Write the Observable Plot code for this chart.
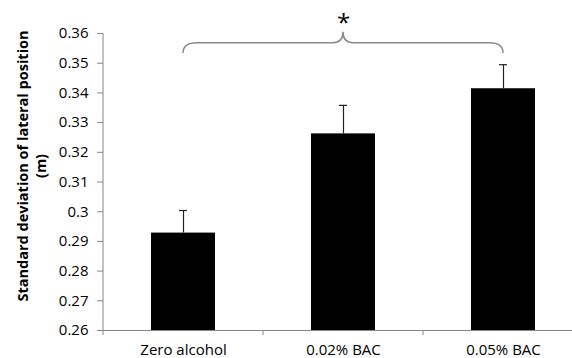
<!DOCTYPE html>
<html><head><meta charset="utf-8">
<script src="https://cdn.jsdelivr.net/npm/d3@7"></script>
<script src="https://cdn.jsdelivr.net/npm/@observablehq/plot@0.6"></script>
<style>
html,body{margin:0;padding:0;background:#fff;}
#chart svg{display:block;}
#chart [aria-label$="axis tick"]{stroke:#868686;}
</style></head><body><div id="chart"></div>
<script>
const categories = ["Zero alcohol", "0.02% BAC", "0.05% BAC"];
const means = [0.2928, 0.3262, 0.3414];
const errors = [0.0076, 0.0096, 0.0081];
const yTicks = [0.26, 0.27, 0.28, 0.29, 0.3, 0.31, 0.32, 0.33, 0.34, 0.35, 0.36];
const yTitle = ["Standard deviation of lateral position", "(m)"];
const sigLabel = "*";
const sigSpan = ["Zero alcohol", "0.05% BAC"];
const sigAnchor = "0.02% BAC";
const braceLevel = 0.3567, braceEnd = 0.3533, braceTip = 0.3604, sigY = 0.3634;

const rows = categories.map((c, i) => ({category: c, mean: means[i], err: errors[i], top: means[i] + errors[i]}));

function frameLines(index, scales, values, dimensions) {
  const {marginLeft, marginTop, height, marginBottom} = dimensions;
  const x = scales.x;
  const step = x.step ? x.step() : 160;
  const bw = x.bandwidth ? x.bandwidth() : 64;
  const y0 = height - marginBottom;
  const g = d3.create("svg:g").attr("stroke", "#868686").attr("fill", "none");
  g.append("line").attr("x1", marginLeft).attr("x2", marginLeft).attr("y1", marginTop).attr("y2", y0);
  const first = x(categories[0]) - (step - bw) / 2;
  for (let i = 0; i <= categories.length; i++) {
    const bx = first + i * step;
    g.append("line").attr("x1", bx).attr("x2", bx).attr("y1", y0).attr("y2", y0 + 5);
  }
  return g.node();
}

function braceMark(index, scales) {
  const x = scales.x, y = scales.y;
  const bw = x.bandwidth ? x.bandwidth() : 0;
  const xa = x(sigSpan[0]) + bw / 2, xb = x(sigSpan[1]) + bw / 2, xm = x(sigAnchor) + bw / 2;
  const yl = y(braceLevel), ye = y(braceEnd), yt = y(braceTip);
  const r = 14, r2 = 10;
  const d = `M${xa},${ye} Q${xa},${yl} ${xa + r},${yl} L${xm - r2},${yl} Q${xm},${yl} ${xm},${yt} Q${xm},${yl} ${xm + r2},${yl} L${xb - r},${yl} Q${xb},${yl} ${xb},${ye}`;
  return d3.create("svg:path").attr("d", d).attr("fill", "none").attr("stroke", "#8a8a8a").attr("stroke-width", 1.5).node();
}

const chart = Plot.plot({
  width: 572,
  height: 358,
  marginLeft: 103,
  marginRight: -11,
  marginTop: 33,
  marginBottom: 28,
  style: {fontFamily: "'Open Sans', 'DejaVu Sans', sans-serif", fontSize: "15px", background: "white", color: "black"},
  x: {domain: categories, paddingInner: 0.6, paddingOuter: 0.3, tickSize: 0, tickPadding: 14, label: null},
  y: {domain: [0.26, 0.36], ticks: yTicks, tickFormat: d => String(d), tickSize: 6, tickPadding: 9, label: null},
  marks: [
    Plot.barY(rows, {x: "category", y1: 0.26, y2: "mean", fill: "black"}),
    Plot.ruleX(rows, {x: "category", y1: "mean", y2: "top", stroke: "#222", strokeWidth: 1.2}),
    Plot.tickY(rows, {x: "category", y: "top", stroke: "#222", strokeWidth: 1.2, insetLeft: 28, insetRight: 28}),
    Plot.ruleY([0.26], {stroke: "#868686"}),
    frameLines,
    braceMark,
    Plot.text([{c: sigAnchor, v: sigY, t: sigLabel}], {x: "c", y: "v", text: "t", fontSize: 24, fill: "black"}),
    Plot.text([yTitle.join("\n")], {frameAnchor: "left", textAnchor: "middle", rotate: -90, dx: -72, dy: -16, fontWeight: "bold", fontSize: 14.5, lineHeight: 1.24, fill: "black"})
  ]
});
document.getElementById("chart").append(chart);
</script>
</body></html>
